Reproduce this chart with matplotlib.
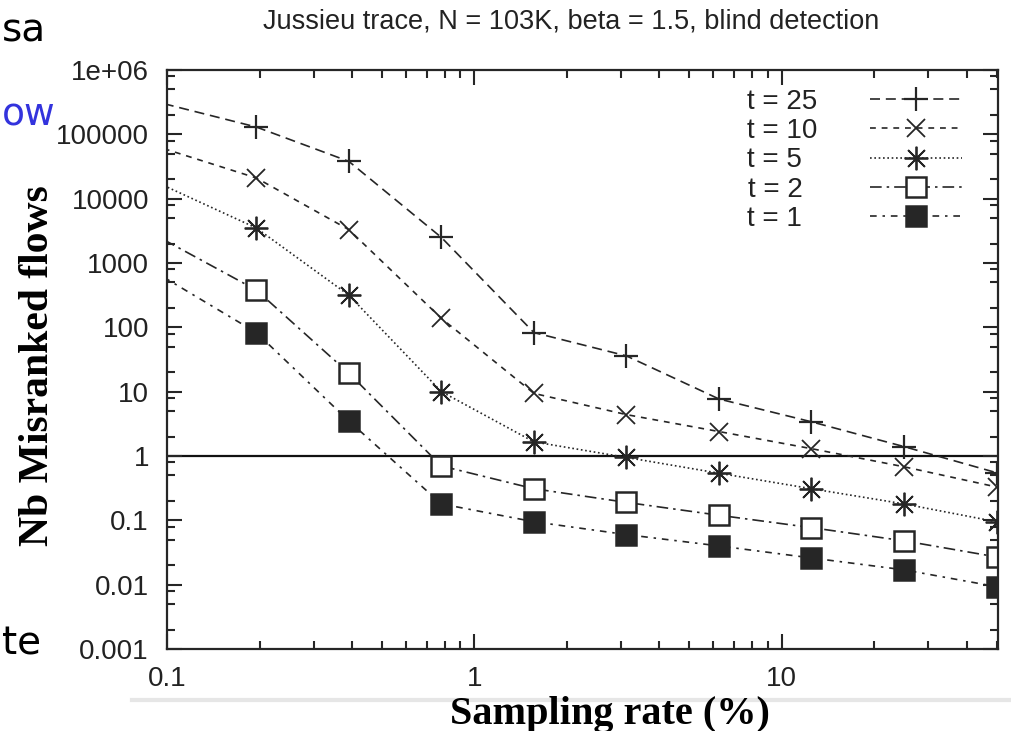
import matplotlib
matplotlib.use("Agg")
import matplotlib.pyplot as plt
from matplotlib.lines import Line2D
from matplotlib.ticker import LogLocator, NullFormatter, FixedLocator, FixedFormatter

plt.rcParams["font.family"] = ["Liberation Sans", "DejaVu Sans"]

# sampling rates (%) -- first point sits just left of the axis
rates = [0.09765625, 0.1953125, 0.390625, 0.78125, 1.5625, 3.125, 6.25, 12.5, 25, 50]

t25 = [3.0e5, 1.3e5, 3.8e4, 2.5e3, 83, 36, 7.7, 3.4, 1.4, 0.55]
t10 = [6.0e4, 2.1e4, 3.3e3, 138, 9.4, 4.4, 2.4, 1.3, 0.68, 0.33]
t5 = [1.6e4, 3.5e3, 316, 10, 1.66, 0.95, 0.54, 0.31, 0.18, 0.095]
t2 = [2.3e3, 380, 19.4, 0.70, 0.31, 0.19, 0.12, 0.077, 0.048, 0.027]
t1 = [600, 83, 3.5, 0.18, 0.095, 0.06, 0.04, 0.026, 0.017, 0.0093]

labels = ["t = 25", "t = 10", "t = 5", "t = 2", "t = 1"]
yticks = [0.001, 0.01, 0.1, 1, 10, 100, 1000, 10000, 100000, 1000000]
ytick_labels = ["0.001", "0.01", "0.1", "1", "10", "100", "1000", "10000", "100000", "1e+06"]
xticks = [0.1, 1, 10]
xtick_labels = ["0.1", "1", "10"]

c = "#262626"
txt = "#222222"

fig = plt.figure(figsize=(10.12, 7.31), dpi=100)
ax = fig.add_axes([0.165, 0.1122, 0.821, 0.792])

styles = [
    dict(ls=(0, (6, 3.5)), marker="+", ms=17, mew=1.6, mfc="none"),
    dict(ls=(0, (3.5, 3.5)), marker="x", ms=13, mew=1.3, mfc="none"),
    dict(ls=(0, (1, 1.6)), marker=(8, 2, 0), ms=17, mew=1.3, mfc="none"),
    dict(ls=(0, (7, 3, 1.5, 3)), marker="s", ms=14, mew=1.8, mfc="white"),
    dict(ls=(0, (4, 3.5, 1.5, 3.5)), marker="s", ms=14, mew=1.8, mfc=c),
]
series = [t25, t10, t5, t2, t1]
for vals, lab, st in zip(series, labels, styles):
    # pad the shorter labels so the legend text lines up on the left
    lab = lab + "\u2007" * (6 - len(lab))
    ax.plot(rates, vals, color=c, lw=1.2, mec=c, label=lab,
            markevery=slice(1, None), **st)

ax.axhline(1, color="#111111", lw=1.6, zorder=1)

ax.set_xscale("log")
ax.set_yscale("log")
ax.set_xlim(0.1, 50.5)
ax.set_ylim(0.001, 1e6)

ax.xaxis.set_major_locator(FixedLocator(xticks))
ax.xaxis.set_major_formatter(FixedFormatter(xtick_labels))
ax.xaxis.set_minor_locator(LogLocator(base=10, subs=range(2, 10), numticks=20))
ax.xaxis.set_minor_formatter(NullFormatter())
ax.yaxis.set_major_locator(FixedLocator(yticks))
ax.yaxis.set_major_formatter(FixedFormatter(ytick_labels))
ax.yaxis.set_minor_locator(LogLocator(base=10, subs=(2, 5, 8), numticks=20))
ax.yaxis.set_minor_formatter(NullFormatter())

ax.tick_params(which="both", direction="in", top=True, right=True, color=c, width=1.5)
ax.tick_params(which="major", length=11, labelsize=20, labelcolor=txt)
ax.tick_params(axis="y", which="major", pad=13)
ax.tick_params(axis="x", which="major", pad=12)
ax.tick_params(which="minor", length=6)
for sp in ax.spines.values():
    sp.set_linewidth(1.6)
    sp.set_color(c)

ax.set_xlabel("Sampling rate (%)", family="Liberation Serif", weight="bold", fontsize=29)
ax.xaxis.label.set_va("center")
ax.xaxis.set_label_coords(0.533, -0.113)
ax.set_ylabel("Nb Misranked flows", family="Liberation Serif", weight="bold", fontsize=30)
ax.yaxis.label.set_va("center")
ax.yaxis.set_label_coords(-0.155, 0.49)

fig.text(0.564, 0.970, "Jussieu trace, N = 103K, beta = 1.5, blind detection",
         ha="center", va="center", fontsize=19.5, color=txt)

leg = ax.legend(loc="upper right", bbox_to_anchor=(0.957, 0.968), frameon=False,
                markerfirst=False, fontsize=20, handlelength=3.3, handletextpad=1.9,
                labelspacing=0.12, borderpad=0, borderaxespad=0)
for t in leg.get_texts():
    t.set_color(txt)

# fragments of the slide behind the chart
fig.text(0.002, 0.958, "sa", fontsize=28, color="black", ha="left", va="center",
         family="DejaVu Sans")
fig.text(0.002, 0.842, "ow", fontsize=27, color="#3333dd", ha="left", va="center",
         family="DejaVu Sans")
fig.text(0.002, 0.120, "te", fontsize=28, color="black", ha="left", va="center",
         family="DejaVu Sans")
fig.add_artist(Line2D([0.13, 1.0], [0.042, 0.042], transform=fig.transFigure,
                      color="#e6e6e6", lw=3, zorder=0))

fig.savefig("out.png", dpi=100)
